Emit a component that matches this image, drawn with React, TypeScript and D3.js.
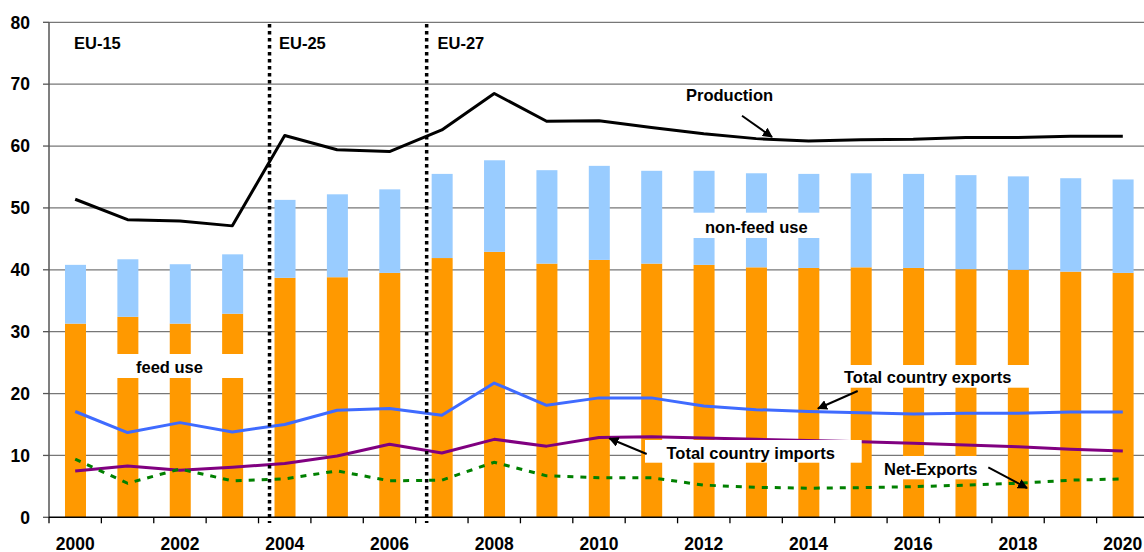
import React from "react";
import * as d3 from "d3";

const years = d3.range(2000, 2021).map(String);
const yTicks = [0, 10, 20, 30, 40, 50, 60, 70, 80];
const xTickLabels = ["2000", "2002", "2004", "2006", "2008", "2010", "2012", "2014", "2016", "2018", "2020"];

const feedUse = [31.3, 32.4, 31.3, 32.9, 38.7, 38.8, 39.5, 41.9, 42.9, 41.0, 41.6, 41.0, 40.8, 40.4, 40.3, 40.4, 40.3, 40.1, 40.0, 39.7, 39.5];
const totalUse = [40.8, 41.7, 40.9, 42.5, 51.3, 52.2, 53.0, 55.5, 57.7, 56.1, 56.8, 56.0, 56.0, 55.6, 55.5, 55.6, 55.5, 55.3, 55.1, 54.8, 54.6];
const nonFeedUse = totalUse.map((t, i) => +(t - feedUse[i]).toFixed(2));

const production = [51.4, 48.1, 47.9, 47.1, 61.7, 59.4, 59.1, 62.6, 68.5, 64.0, 64.1, 63.0, 62.0, 61.2, 60.8, 61.0, 61.1, 61.4, 61.4, 61.6, 61.6];
const exportsTotal = [17.1, 13.7, 15.3, 13.8, 15.0, 17.3, 17.6, 16.5, 21.7, 18.1, 19.3, 19.3, 18.0, 17.4, 17.1, 16.9, 16.7, 16.8, 16.8, 17.0, 17.0];
const importsTotal = [7.5, 8.3, 7.6, 8.1, 8.7, 9.9, 11.8, 10.4, 12.6, 11.5, 12.9, 13.0, 12.8, 12.6, 12.4, 12.2, 11.95, 11.7, 11.4, 11.0, 10.7];
const netExports = [9.4, 5.5, 7.8, 5.9, 6.2, 7.5, 5.9, 6.0, 8.9, 6.7, 6.4, 6.4, 5.2, 4.85, 4.7, 4.8, 4.95, 5.2, 5.5, 6.0, 6.2];

const regions = ["EU-15", "EU-25", "EU-27"];
const dividerIndex = [4.21, 7.21];

const W = 1144;
const H = 552;
const FONT = "Arial, 'Liberation Sans', Helvetica, sans-serif";

export default function App() {
  const x = d3.scaleBand<string>().domain(years).range([49, 1149]).paddingInner(0.6).paddingOuter(0.3);
  const step = x.step();
  const left = 49;
  const cx = (i: number) => left + (i + 0.5) * step;
  const bw = 21;
  const y = d3.scaleLinear().domain([0, 80]).range([517.3, 22.3]);

  const lineGen = (vals: number[]) =>
    d3.line<number>().x((_, i) => cx(i)).y((v) => y(v))(vals) || "";

  const boundaries = d3.range(0, 22).map((i) => left + i * step);

  const boxes = [
    { x0: 100, x1: 252, y0: 354, y1: 378 },
    { x0: 672, x1: 835, y0: 212.7, y1: 238 },
    { x0: 830, x1: 1040, y0: 365, y1: 387.7 },
    { x0: 645, x1: 861.7, y0: 440, y1: 462.7 },
    { x0: 876, x1: 990, y0: 456, y1: 479.3 },
  ];

  const labels = [
    { t: "feed use", x: 136, y: 366.5 },
    { t: "non-feed use", x: 705, y: 226.5 },
    { t: "Total country exports", x: 844, y: 377 },
    { t: "Total country imports", x: 666.5, y: 452.5 },
    { t: "Net-Exports", x: 884, y: 469 },
    { t: "Production", x: 686, y: 94.5 },
  ];

  const arrows = [
    { x1: 742, y1: 115.7, x2: 772, y2: 137 },
    { x1: 857.7, y1: 391, x2: 818, y2: 408.5 },
    { x1: 646.7, y1: 454, x2: 609.5, y2: 438.5 },
    { x1: 988.3, y1: 467.3, x2: 1027, y2: 488 },
  ];

  const regionX = [74, 279, 437.5];

  return (
    <svg width={W} height={H} style={{ position: "absolute", left: 0, top: 0, background: "#fff" }} fontFamily={FONT}>
      <defs>
        <marker id="ah" viewBox="0 0 10 10" refX="9" refY="5" markerWidth="5" markerHeight="5" orient="auto" markerUnits="strokeWidth">
          <path d="M0,0 L10,5 L0,10 z" fill="#000" />
        </marker>
      </defs>
      <rect x={0} y={0} width={W} height={H} fill="#fff" />
      {/* gridlines */}
      {yTicks.filter((t) => t > 0).map((t) => (
        <line key={t} x1={left} x2={W} y1={y(t)} y2={y(t)} stroke="#777" strokeWidth={1.3} />
      ))}
      {/* bars */}
      {years.map((yr, i) => (
        <g key={yr}>
          <rect x={cx(i) - bw / 2 + 0.3} width={bw} y={y(feedUse[i])} height={y(0) - y(feedUse[i])} fill="#FF9900" />
          <rect x={cx(i) - bw / 2 + 0.3} width={bw} y={y(feedUse[i] + nonFeedUse[i])} height={y(feedUse[i]) - y(feedUse[i] + nonFeedUse[i])} fill="#99CCFF" />
        </g>
      ))}
      {/* lines */}
      <path d={lineGen(production)} fill="none" stroke="#000" strokeWidth={3} strokeLinejoin="round" />
      <path d={lineGen(exportsTotal)} fill="none" stroke="#3F6BFF" strokeWidth={3} strokeLinejoin="round" />
      <path d={lineGen(importsTotal)} fill="none" stroke="#800080" strokeWidth={3} strokeLinejoin="round" />
      <path d={lineGen(netExports)} fill="none" stroke="#008000" strokeWidth={3} strokeDasharray="6,7" />
      {/* annotation boxes */}
      {boxes.map((b, i) => (
        <rect key={i} x={b.x0} y={b.y0} width={b.x1 - b.x0} height={b.y1 - b.y0} fill="#fff" />
      ))}
      {/* axes */}
      <line x1={left} x2={left} y1={y(80)} y2={y(0)} stroke="#555" strokeWidth={1.5} />
      {yTicks.map((t) => (
        <line key={"yt" + t} x1={43} x2={left} y1={y(t)} y2={y(t)} stroke="#555" strokeWidth={1.3} />
      ))}
      <line x1={left} x2={W} y1={y(0)} y2={y(0)} stroke="#000" strokeWidth={1.5} />
      {boundaries.map((b, i) => (
        <line key={"xt" + i} x1={b} x2={b} y1={y(0)} y2={y(0) + 6} stroke="#000" strokeWidth={1.3} />
      ))}
      {yTicks.map((t) => (
        <text key={"yl" + t} x={30} y={y(t) + 6.3} textAnchor="end" fontSize={17.5} fontWeight="bold" fill="#000">
          {t}
        </text>
      ))}
      {years.map((yr, i) =>
        xTickLabels.includes(yr) ? (
          <text key={"xl" + yr} x={cx(i)} y={549.5} textAnchor="middle" fontSize={17.5} fontWeight="bold" fill="#000">
            {yr}
          </text>
        ) : null
      )}
      {/* dividers */}
      {dividerIndex.map((d, i) => (
        <line key={"dv" + i} x1={left + d * step} x2={left + d * step} y1={24} y2={523} stroke="#000" strokeWidth={3.5} strokeDasharray="3.5,3.5" />
      ))}
      {regions.map((r, i) => (
        <text key={r} x={regionX[i]} y={48.5} fontSize={16.5} fontWeight="bold" fill="#000">
          {r}
        </text>
      ))}
      {labels.map((l) => (
        <text key={l.t} x={l.x} y={l.y + 6} fontSize={16.5} fontWeight="bold" fill="#000">
          {l.t}
        </text>
      ))}
      {arrows.map((a, i) => (
        <line key={"ar" + i} x1={a.x1} y1={a.y1} x2={a.x2} y2={a.y2} stroke="#000" strokeWidth={2} markerEnd="url(#ah)" />
      ))}
    </svg>
  );
}
